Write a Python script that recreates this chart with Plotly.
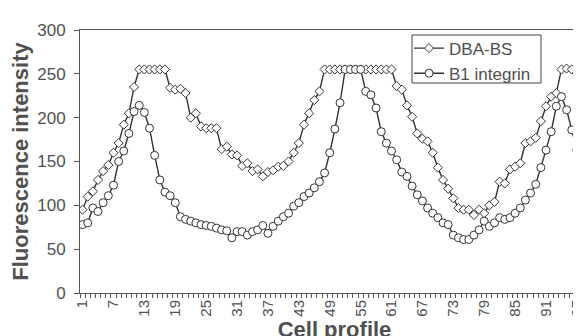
import plotly.graph_objects as go

cells = list(range(1, 100))

dba_bs = [95, 110, 116, 129, 139, 146, 160, 171, 192, 205,
          235, 255, 255, 255, 255, 255, 255, 234, 232, 233,
          228, 200, 205, 190, 188, 188, 188, 164, 167, 158,
          157, 145, 148, 139, 141, 133, 138, 140, 144, 145,
          150, 160, 171, 192, 205, 220, 230, 255, 255, 255,
          255, 255, 255, 255, 255, 255, 255, 255, 255, 255,
          255, 236, 232, 214, 201, 182, 176, 173, 160, 143,
          129, 119, 108, 97, 95, 95, 89, 95, 91, 100,
          104, 127, 125, 141, 144, 148, 171, 173, 177, 196,
          213, 224, 228, 255, 256, 255, 251, 237, 201]

b1_integrin = [78, 80, 97, 93, 103, 111, 123, 150, 162, 182,
               207, 214, 206, 188, 157, 129, 115, 111, 103, 87,
               84, 82, 80, 78, 77, 76, 74, 72, 71, 63,
               70, 70, 66, 70, 72, 77, 68, 76, 82, 87,
               91, 99, 103, 110, 114, 120, 127, 137, 160, 187,
               217, 255, 255, 255, 255, 230, 226, 211, 184, 171,
               162, 152, 138, 133, 122, 112, 105, 97, 91, 86,
               80, 78, 66, 63, 61, 61, 66, 72, 82, 76,
               80, 86, 84, 86, 91, 97, 106, 114, 124, 143,
               163, 184, 213, 224, 209, 186, 163, 139, 116]

tick_cells = list(range(1, 100, 6))
tick_labels = [str(v) for v in tick_cells]
y_ticks = [0, 50, 100, 150, 200, 250, 300]

FONT = "Liberation Sans, Arial, sans-serif"
LINE = "#333333"
TXT = "#505050"

fig = go.Figure()
fig.add_trace(go.Scatter(
    x=cells, y=dba_bs, name="DBA-BS", mode="lines+markers",
    line=dict(color=LINE, width=1.4),
    marker=dict(symbol="diamond", size=7, color="white",
                line=dict(color=LINE, width=1)),
))
fig.add_trace(go.Scatter(
    x=cells, y=b1_integrin, name="B1 integrin", mode="lines+markers",
    line=dict(color=LINE, width=1.4),
    marker=dict(symbol="circle", size=8, color="white",
                line=dict(color=LINE, width=1)),
))

# legend frame (compact box behind the legend entries)
fig.add_shape(type="rect", xref="paper", yref="paper",
              x0=0.6523, x1=0.9057, y0=0.7985, y1=0.981,
              line=dict(color="#444444", width=1),
              fillcolor="white", layer="above")

fig.update_layout(
    width=581, height=336,
    margin=dict(l=72, r=0, t=22, b=51),
    paper_bgcolor="white", plot_bgcolor="white",
    font=dict(family=FONT, color=TXT, size=17),
    showlegend=True,
    legend=dict(
        x=0.6464, y=0.998, xanchor="left", yanchor="top",
        bgcolor="rgba(0,0,0,0)", borderwidth=0,
        font=dict(family=FONT, size=17, color=TXT),
        itemwidth=30, tracegroupgap=0,
    ),
    xaxis=dict(
        range=[0.5, 99.35],
        tickmode="array", tickvals=tick_cells, ticktext=tick_labels,
        tickangle=-90, tickfont=dict(size=15, color=TXT),
        ticks="outside", ticklen=0,
        minor=dict(tick0=0.5, dtick=1, ticks="outside", ticklen=4,
                   tickcolor="#555555", showgrid=False),
        showline=True, linecolor="#555555", linewidth=1, mirror=True,
        showgrid=False, zeroline=False,
        title=dict(text="<b>Cell profile</b>", font=dict(size=22, color=TXT),
                   standoff=1),
    ),
    yaxis=dict(
        range=[0, 300], tickvals=y_ticks,
        tickfont=dict(size=17, color=TXT),
        ticks="outside", ticklen=5, tickcolor="#555555",
        ticklabelstandoff=5,
        showline=True, linecolor="#555555", linewidth=1,
        showgrid=False, zeroline=False,
        title=dict(text="<b>Fluorescence intensity</b>",
                   font=dict(size=22, color=TXT), standoff=4),
    ),
)

fig.write_html("out.html")
